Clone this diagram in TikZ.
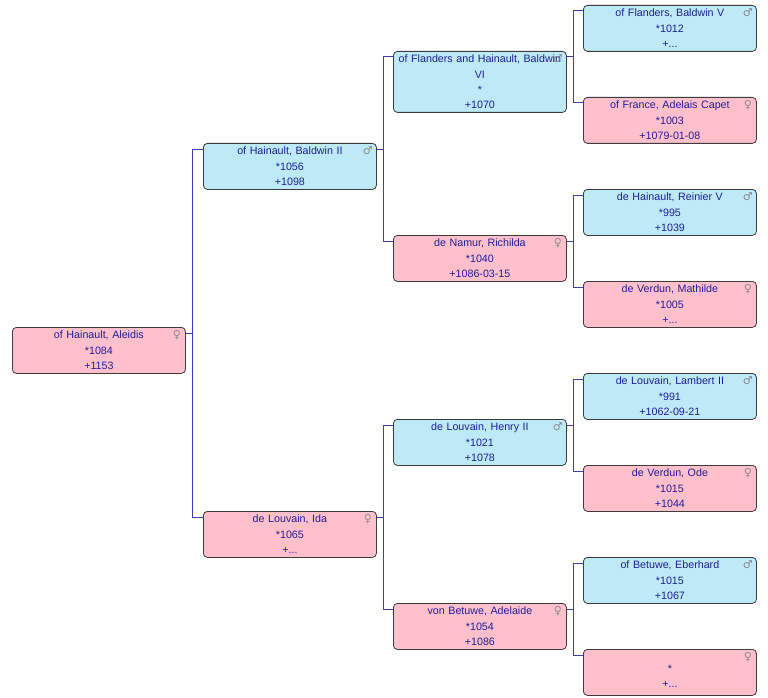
\documentclass[tikz,border=0pt]{standalone}
\usepackage{fontspec}
\setmainfont{Liberation Sans}
\newfontfamily\symfont{DejaVu Sans}
\usetikzlibrary{positioning}
\definecolor{maleblue}{HTML}{BDEAF6}
\definecolor{femalepink}{HTML}{FFC0CB}
\definecolor{namecol}{HTML}{1E1E9C}
\definecolor{boxgray}{HTML}{3C3C3C}
\definecolor{symgray}{HTML}{8C8C8C}
\definecolor{linkcol}{HTML}{3E3EB4}
\begin{document}
\begin{tikzpicture}[x=1pt, y=-1pt,
    person/.style={draw=boxgray, line width=0.8pt, rounded corners=4pt, anchor=north west, text width=163pt, inner xsep=5pt, inner ysep=0pt, minimum height=46pt, align=center, text=namecol, font=\fontsize{10.7}{15.4}\selectfont},
    gsym/.style={anchor=center, xshift=-9pt, yshift=-8pt, inner sep=0pt, text=symgray, font=\symfont\fontsize{11}{11}\selectfont},
    male/.style={person, fill=maleblue, label={[gsym]north east:♂}},
    female/.style={person, fill=femalepink, label={[gsym]north east:♀}},
    link/.style={color=linkcol, line width=1pt}]
        \useasboundingbox (0,0) rectangle (768,698);

        % Thế hệ 0
        \node[female] (aleidis) at (12,327) {of Hainault, Aleidis\\{}*1084\\+1153};

        % Thế hệ 1
        \node[male] (baldwin2) at (203,143) {of Hainault, Baldwin II\\{}*1056\\+1098};
        \node[female] (ida) at (203,511) {de Louvain, Ida\\{}*1065\\+...};

        % Thế hệ 2
        \node[male, minimum height=61pt] (baldwin6) at (393,51) {of Flanders and Hainault, Baldwin\\VI\\{}*\\+1070};
        \node[female] (richilda) at (393,235) {de Namur, Richilda\\{}*1040\\+1086-03-15};
        \node[male] (henry2) at (393,419) {de Louvain, Henry II\\{}*1021\\+1078};
        \node[female] (adelaide) at (393,603) {von Betuwe, Adelaide\\{}*1054\\+1086};

        % Thế hệ 3
        \node[male] (baldwin5) at (583,5) {of Flanders, Baldwin V\\{}*1012\\+...};
        \node[female] (adelais) at (583,97) {of France, Adelais Capet\\{}*1003\\+1079-01-08};
        \node[male] (reinier5) at (583,189) {de Hainault, Reinier V\\{}*995\\+1039};
        \node[female] (mathilde) at (583,281) {de Verdun, Mathilde\\{}*1005\\+...};
        \node[male] (lambert2) at (583,373) {de Louvain, Lambert II\\{}*991\\+1062-09-21};
        \node[female] (ode) at (583,465) {de Verdun, Ode\\{}*1015\\+1044};
        \node[male] (eberhard) at (583,557) {of Betuwe, Eberhard\\{}*1015\\+1067};
        \node[female] (unknown) at (583,649) {\mbox{}\\{}*\\+...};

        % Đường nối cha mẹ
        \draw[link] ([yshift=-6pt]aleidis.north east) -- ++(7pt,0) coordinate (j0) |- ([yshift=-6pt]baldwin2.north west) (j0) |- ([yshift=-6pt]ida.north west);
        \draw[link] ([yshift=-6pt]baldwin2.north east) -- ++(7pt,0) coordinate (j1) |- ([yshift=-6pt]baldwin6.north west) (j1) |- ([yshift=-6pt]richilda.north west);
        \draw[link] ([yshift=-6pt]ida.north east) -- ++(7pt,0) coordinate (j2) |- ([yshift=-6pt]henry2.north west) (j2) |- ([yshift=-6pt]adelaide.north west);
        \draw[link] ([yshift=-6pt]baldwin6.north east) -- ++(7pt,0) coordinate (j3) |- ([yshift=-6pt]baldwin5.north west) (j3) |- ([yshift=-6pt]adelais.north west);
        \draw[link] ([yshift=-6pt]richilda.north east) -- ++(7pt,0) coordinate (j4) |- ([yshift=-6pt]reinier5.north west) (j4) |- ([yshift=-6pt]mathilde.north west);
        \draw[link] ([yshift=-6pt]henry2.north east) -- ++(7pt,0) coordinate (j5) |- ([yshift=-6pt]lambert2.north west) (j5) |- ([yshift=-6pt]ode.north west);
        \draw[link] ([yshift=-6pt]adelaide.north east) -- ++(7pt,0) coordinate (j6) |- ([yshift=-6pt]eberhard.north west) (j6) |- ([yshift=-6pt]unknown.north west);
    \end{tikzpicture}
\end{document}
